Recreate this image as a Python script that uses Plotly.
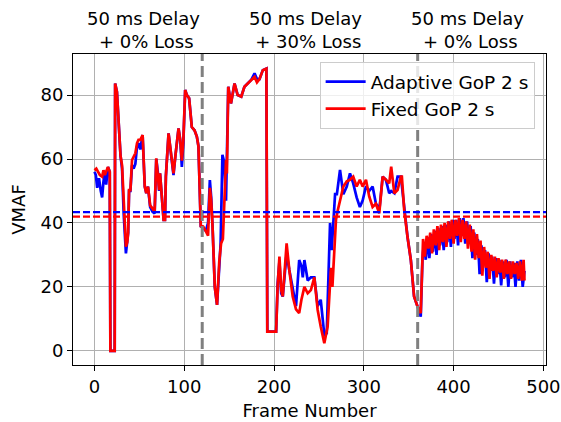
import plotly.graph_objects as go

# ---- data ----
adaptive_frames = [0, 1.5, 3, 5, 7, 8.5, 10, 11.5, 13, 15, 17, 17.7, 22.5, 23, 25, 27, 29, 30.7, 32.5, 35,
                   36.5, 37.5, 38.5, 40, 41.8, 43.6, 45.5, 47.4, 49, 51, 53.6, 56, 57.7, 59.6, 62, 64.7, 67,
                   68.8, 70.7, 72, 73, 75, 77, 78.5, 79.5, 82.5, 84.3, 88, 90, 91.8, 93.6, 95.5, 97.3, 99,
                   101, 102.9, 105.4, 108.4, 111.4, 114, 115.8, 118.4, 121, 124, 126.5, 128.5, 130, 131.5,
                   134, 136.5, 139, 140.5, 142.5, 144.5, 146.5, 149, 152, 156, 159.5, 163.5, 167, 171, 174.5,
                   178.3, 181, 183.8, 187.5, 191.5, 192.5, 202.3, 204, 206, 208, 209.7, 211.6, 214, 217,
                   220.8, 224.5, 228, 230.5, 232, 233.8, 237.5, 241, 244.9, 248.6, 252, 256, 258.7, 262.4,
                   264.2, 266, 268, 270, 273.5, 277.2, 281, 284.6, 288.2, 292, 295.6, 298.7, 302.4, 306,
                   309.8, 313.5, 317.5, 321, 324.6, 328.3, 330.5, 334, 337.6, 341.3, 345, 348.7, 352.4, 356,
                   359.8, 363.4, 365.3,
                   367, 369, 371, 373, 375, 377, 379, 381, 383, 385, 387, 389, 391, 393, 395, 397, 399, 401,
                   403, 405, 407, 409, 411, 413, 415, 417, 419, 421, 423, 425, 427, 429, 431, 433, 435, 437,
                   439, 441, 443, 445, 447, 449, 451, 453, 455, 457, 459, 461, 463, 465, 467, 469, 471, 473,
                   475, 477, 479]
adaptive_vmaf = [56, 55, 51, 54, 50, 48, 53, 56, 52, 57.5, 56, 0, 0, 83.6, 81, 70, 61, 57, 43, 30.5,
                 34, 37, 50, 50, 58, 57, 58.5, 64, 65, 63, 67.5, 51.4, 49.3, 51.4, 45, 43.5, 43,
                 60, 55.5, 50, 55.5, 48, 41, 41, 54.5, 68, 63, 55, 60.7, 65, 69.6, 66, 57.5, 65,
                 81.6, 80, 79, 70, 69, 67, 64, 39, 38.5, 37.5, 40, 53.4, 48, 38.9,
                 20, 14.4, 25, 33.6, 61.3, 59, 47, 82.6, 77.4, 83.6, 80, 79.5, 82.6, 83.6, 84.7,
                 86.8, 85, 85, 87.8, 88.3, 6, 6, 21, 28, 18, 17, 23, 30.5, 25.3,
                 19, 14, 28.4, 26.5, 23, 28.4, 22, 23, 23, 14, 16, 5, 5.5, 40,
                 31.5, 41, 49, 49, 56.6, 49, 51.4, 55.5, 52.4, 48, 45, 47, 51.5, 50,
                 51.4, 46, 44.6, 54.5, 53.5, 49.3, 50, 49.3, 54.5, 54.5, 44, 35.6, 28.4, 17,
                 13.9, 10.7, 28.4,
                 34, 28.5, 35.5, 29, 36.5, 31, 37.5, 30, 38.5, 33, 39, 31.5, 39.5, 34, 40.5, 32.5, 41, 35,
                 41, 33, 41.5, 36, 41.5, 33.5, 40.5, 34, 39, 29, 37, 30, 35, 24, 33, 27, 31.5, 21.5,
                 30.5, 25, 29.5, 21, 29, 24, 28.5, 20.5, 28, 23, 28.5, 20, 28, 23, 27.5, 20, 28, 22,
                 28.5, 20, 25]

fixed_frames = [0, 2, 4, 6, 8.5, 10, 11.5, 13, 15, 17, 17.7, 22.5, 23, 25, 27, 29, 30.7, 32.5, 35, 36.5,
                37.5, 38.5, 40, 41.8, 43.6, 45.5, 47.4, 49, 51, 53.6, 56, 57.7, 59.6, 62, 64.7, 67, 68.8,
                70.7, 72, 73, 75, 77, 78.5, 79.5, 82.5, 84.3, 88, 90, 91.8, 93.6, 95.5, 97.3, 99, 101,
                102.9, 105.4, 108.4, 111.4, 114, 115.8, 118.4, 121, 123, 125, 126.5, 128.5, 130, 131.5,
                134, 136.5, 139, 141, 143, 145, 146.5, 147.5, 149, 152, 156, 159.5, 163.5, 167, 171,
                174.5, 178.3, 181, 183.8, 187.5, 191.5, 192.5, 202.3, 204, 206, 208, 209.7, 211.6, 214,
                217, 220.8, 224.5, 228, 230.5, 232, 233.8, 237.5, 241, 244.9, 248.6, 252, 256, 259.7,
                263.4, 265, 267, 269, 271, 273.5, 277.2, 281, 284.6, 288.2, 292, 295.6, 298.7, 302.4,
                306, 309.8, 313.5, 317.2, 321, 324.6, 328.3, 330.5, 334, 337.6, 341.3, 342.4, 345,
                348.7, 352.4, 356, 359.8, 363.4, 365.3,
                366, 368, 370, 372, 374, 376, 378, 380, 382, 384, 386, 388, 390, 392, 394, 396, 398, 400,
                402, 404, 406, 408, 410, 412, 414, 416, 418, 420, 422, 424, 426, 428, 430, 432, 434, 436,
                438, 440, 442, 444, 446, 448, 450, 452, 454, 456, 458, 460, 462, 464, 466, 468, 470, 472,
                474, 476, 478, 479]
fixed_vmaf = [56.5, 57, 56, 55, 54.5, 56.5, 55, 56, 57.5, 56, 0, 0, 83.6, 81, 70, 61, 58, 45, 32.6, 34,
              37, 50.3, 50.3, 59.7, 61, 61.8, 65, 66, 66, 67.5, 51.4, 49.3, 51.4, 45.5, 44.5, 43.5, 60.2,
              55.5, 50.3, 55.5, 48, 41, 41, 54.5, 68, 63.9, 55.5, 60.7, 65, 69.6, 66, 59.5, 66, 81.6,
              80, 79, 70, 69, 67, 64, 39, 38.9, 38, 37, 36, 51, 47, 38.9,
              20, 14.4, 28, 33.6, 35, 49, 59.7, 55.5, 82.6, 77.4, 83.6, 80, 79.5, 82.6, 83.6,
              84.7, 85.7, 84, 85, 87.8, 88.3, 6, 6, 20, 29.5, 19, 17, 24, 33.6,
              25.3, 17, 13, 11.8, 16, 18, 20, 18, 19, 23, 12.8, 7.6, 2.4, 7.6,
              26, 20, 30, 41, 44, 47, 51.4, 53, 53.5, 54.5, 51.4, 53.5, 51.4, 53.5,
              48.3, 45, 46, 43, 54.5, 53.5, 52.4, 57.6, 49.3, 50.3, 54.5, 54.5, 44,
              35.6, 28.4, 17, 13.9, 11.8, 28.4,
              35, 29.5, 36, 32, 37, 30.5, 38, 33, 39, 31.5, 39.5, 34, 40, 32.5, 40.5, 35, 41, 33.5,
              41, 36, 41.5, 34, 41, 35, 40.5, 32, 39.5, 31, 38, 28.5, 36.5, 29, 34.5, 23.5, 32.5, 26,
              31, 22.5, 30, 25, 29.5, 23, 29, 24.5, 28.5, 22.5, 28.5, 24, 28, 22.5, 28, 24, 27.5, 22.5,
              28, 22, 28.5, 22]

adaptive_mean = 43.4
fixed_mean = 42.0
condition_boundaries = [120, 360]
condition_labels = ["50 ms Delay<br> + 0% Loss", "50 ms Delay<br> + 30% Loss", "50 ms Delay<br> + 0% Loss"]
condition_label_x = [55, 235, 416]
series_names = ["Adaptive GoP 2 s", "Fixed GoP 2 s"]
x_ticks = [0, 100, 200, 300, 400, 500]
y_ticks = [0, 20, 40, 60, 80]

BLUE = "#0000ff"
RED = "#ff0000"
FS = 18

fig = go.Figure()
fig.add_trace(go.Scatter(x=adaptive_frames, y=adaptive_vmaf, mode="lines", name=series_names[0],
                         line=dict(color=BLUE, width=2.7)))
fig.add_trace(go.Scatter(x=fixed_frames, y=fixed_vmaf, mode="lines", name=series_names[1],
                         line=dict(color=RED, width=2.7)))

for xb in condition_boundaries:
    fig.add_shape(type="line", xref="x", yref="paper", x0=xb, x1=xb, y0=0, y1=1,
                  line=dict(color="#808080", width=3, dash="11px,5px"), layer="above")
fig.add_shape(type="line", xref="paper", yref="y", x0=0, x1=1, y0=adaptive_mean, y1=adaptive_mean,
              line=dict(color=BLUE, width=2.2, dash="7px,3px"), layer="above")
fig.add_shape(type="line", xref="paper", yref="y", x0=0, x1=1, y0=fixed_mean, y1=fixed_mean,
              line=dict(color=RED, width=2.2, dash="7px,3px"), layer="above")

for lx, lt in zip(condition_label_x, condition_labels):
    fig.add_annotation(x=lx, xref="x", y=1, yref="paper", yanchor="bottom", xanchor="center",
                       text=lt, showarrow=False, yshift=0,
                       font=dict(size=FS, color="black", family="DejaVu Sans"))

axis_common = dict(showline=True, linecolor="black", linewidth=1.1, mirror=True,
                   ticks="outside", ticklen=5, tickwidth=1.1, tickcolor="black",
                   showgrid=True, gridcolor="#b0b0b0", gridwidth=1, zeroline=False,
                   automargin=False,
                   tickfont=dict(size=FS, color="black"))

fig.update_xaxes(range=[-23.95, 502.95], tickvals=x_ticks,
                 title=dict(text="Frame Number", font=dict(size=FS, color="black"), standoff=8),
                 **axis_common)
fig.update_yaxes(range=[-4.42, 92.85], tickvals=y_ticks,
                 title=dict(text="VMAF", font=dict(size=FS, color="black"), standoff=10),
                 **axis_common)

fig.update_layout(
    width=561, height=422,
    margin=dict(l=73, r=15, t=54, b=57),
    paper_bgcolor="white", plot_bgcolor="white",
    font=dict(family="DejaVu Sans", size=FS, color="black"),
    showlegend=True,
    legend=dict(x=0.976, y=0.974, xanchor="right", yanchor="top",
                bgcolor="rgba(255,255,255,0.8)", bordercolor="#cccccc", borderwidth=1,
                font=dict(size=18.5, color="black"), tracegroupgap=0, itemwidth=40),
)

fig.write_html("out.html", config={"displayModeBar": False},
               post_script="document.body.style.margin='0px';document.body.style.overflow='hidden';")
